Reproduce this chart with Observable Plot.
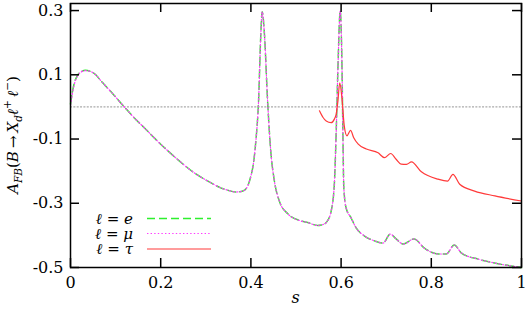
<!DOCTYPE html>
<html><head><meta charset="utf-8">
<script src="https://cdn.jsdelivr.net/npm/d3@7"></script>
<script src="https://cdn.jsdelivr.net/npm/@observablehq/plot@0.6"></script>
<style>
body{margin:0;background:#fff}
svg{display:block}
#chart svg, #chart svg text, #chart svg tspan { font-family: "DejaVu Serif", serif !important; }
</style>
</head><body><div id="chart"></div>
<script>
// ---- data ----
const eS = [0,0.004,0.008,0.015,0.024,0.033,0.045,0.056,0.067,0.08,0.095,0.118,0.14,0.163,0.2,0.237,0.274,0.311,0.333,0.348,0.367,0.382,0.393,0.4,0.404,0.411,0.417,0.422,0.425,0.43,0.437,0.444,0.452,0.463,0.482,0.511,0.526,0.548,0.56,0.567,0.578,0.585,0.589,0.593,0.598,0.602,0.604,0.606,0.611,0.622,0.633,0.652,0.674,0.693,0.709,0.722,0.738,0.762,0.784,0.816,0.833,0.851,0.867,0.904,0.94,1.0];
const eA = [0.009,0.045,0.072,0.097,0.11,0.114,0.11,0.1,0.082,0.062,0.039,0.002,-0.032,-0.064,-0.116,-0.163,-0.205,-0.236,-0.252,-0.259,-0.265,-0.262,-0.246,-0.215,-0.19,-0.106,0.019,0.227,0.296,0.227,0.019,-0.137,-0.23,-0.293,-0.333,-0.355,-0.36,-0.369,-0.366,-0.36,-0.324,-0.24,-0.084,0.122,0.298,0.122,-0.084,-0.251,-0.314,-0.345,-0.376,-0.402,-0.417,-0.424,-0.396,-0.411,-0.427,-0.411,-0.439,-0.458,-0.458,-0.43,-0.455,-0.474,-0.486,-0.5];
const muS = [0,0.004,0.008,0.015,0.024,0.033,0.045,0.056,0.067,0.08,0.095,0.118,0.14,0.163,0.2,0.237,0.274,0.311,0.333,0.348,0.367,0.382,0.393,0.4,0.404,0.411,0.417,0.422,0.425,0.43,0.437,0.444,0.452,0.463,0.482,0.511,0.526,0.548,0.56,0.567,0.578,0.585,0.589,0.593,0.598,0.602,0.604,0.606,0.611,0.622,0.633,0.652,0.674,0.693,0.709,0.722,0.738,0.762,0.784,0.816,0.833,0.851,0.867,0.904,0.94,1.0];
const muA = [0.005,0.04,0.068,0.095,0.109,0.113,0.11,0.1,0.082,0.062,0.039,0.002,-0.032,-0.064,-0.116,-0.163,-0.205,-0.236,-0.252,-0.259,-0.265,-0.262,-0.246,-0.215,-0.19,-0.106,0.019,0.227,0.296,0.227,0.019,-0.137,-0.23,-0.293,-0.333,-0.355,-0.36,-0.369,-0.366,-0.36,-0.324,-0.24,-0.084,0.122,0.298,0.122,-0.084,-0.251,-0.314,-0.345,-0.376,-0.402,-0.417,-0.424,-0.396,-0.411,-0.427,-0.411,-0.439,-0.458,-0.458,-0.43,-0.455,-0.474,-0.486,-0.5];
const tauS = [0.552,0.56,0.567,0.578,0.585,0.589,0.593,0.597,0.602,0.607,0.613,0.621,0.628,0.638,0.656,0.682,0.696,0.71,0.722,0.733,0.745,0.756,0.778,0.815,0.836,0.848,0.863,0.896,0.941,1.0];
const tauA = [-0.012,-0.033,-0.044,-0.049,-0.038,-0.023,0.019,0.075,0.025,-0.059,-0.09,-0.073,-0.096,-0.116,-0.131,-0.143,-0.158,-0.145,-0.163,-0.178,-0.179,-0.171,-0.202,-0.225,-0.231,-0.21,-0.241,-0.262,-0.277,-0.293];
const xTicks = [0,0.2,0.4,0.6,0.8,1];
const xTickLabels = ["0","0.2","0.4","0.6","0.8","1"];
const yTicks = [-0.5,-0.3,-0.1,0.1,0.3];
const yTickLabels = ["-0.5","-0.3","-0.1","0.1","0.3"];
const seriesNames = ["e","μ","τ"];
const seriesColors = ["#2ef02e","#ff3cff","#ff3a3a"];
const seriesDash = ["8,4","1.4,2.2",null];
const seriesWidth = [1.5, 1.2, 1.2];

const toRows = (S, A, name) => S.map((s, i) => ({s, a: A[i], name}));
const series = [toRows(eS, eA, "e"), toRows(muS, muA, "μ"), toRows(tauS, tauA, "τ")];

const W = 526, H = 310, mL = 70, mR = 5, mT = 3, mB = 43;
const pw = W - mL - mR, ph = H - mT - mB, tk = 9;

const plot = Plot.plot({
  width: W, height: H,
  marginLeft: mL, marginRight: mR, marginTop: mT, marginBottom: mB,
  x: {domain: [0, 1]},
  y: {domain: [-0.5, 0.322]},
  style: {fontSize: "16px", background: "white", color: "black"},
  marks: [
    Plot.ruleY([0], {stroke: "#aaaaaa", strokeWidth: 1.4, strokeDasharray: "2,1.35"}),
    ...series.map((d, i) => Plot.line(d, {x: "s", y: "a", stroke: seriesColors[i], strokeWidth: seriesWidth[i], strokeDasharray: seriesDash[i], curve: "monotone-x"})),
    Plot.tickX(xTicks, {x: d => d, insetTop: ph - tk, stroke: "black", strokeWidth: 1.5}),
    Plot.tickX(xTicks, {x: d => d, insetBottom: ph - tk, stroke: "black", strokeWidth: 1.5}),
    Plot.tickY(yTicks, {y: d => d, insetRight: pw - tk, stroke: "black", strokeWidth: 1.5}),
    Plot.tickY(yTicks, {y: d => d, insetLeft: pw - tk, stroke: "black", strokeWidth: 1.5}),
    Plot.axisX(xTicks, {tickSize: 0, tickPadding: 9, tickFormat: (d, i) => xTickLabels[i], label: null}),
    Plot.axisY(yTicks, {tickSize: 0, tickPadding: 7, tickFormat: (d, i) => yTickLabels[i], label: null}),
    Plot.frame({stroke: "black", strokeWidth: 1.5})
  ]
});

const svg = d3.select(plot);
// x label
svg.append("text").attr("x", mL + pw / 2).attr("y", 303).attr("text-anchor", "middle")
  .attr("font-size", 16).attr("font-style", "italic").text("s");
// y label
const yl = svg.append("text").attr("transform", `translate(18,${mT + ph / 2}) rotate(-90)`)
  .attr("text-anchor", "middle").attr("font-size", 15);
const parts = [
  ["A", {fs: "italic"}], ["FB", {fs: "italic", size: 10.5, dy: 4}], ["(", {dy: -4}],
  ["B", {fs: "italic"}], ["\u2009→\u2009", {}], ["X", {fs: "italic"}],
  ["d", {fs: "italic", size: 10.5, dy: 4}], ["ℓ", {fs: "italic", dy: -4}],
  ["+", {size: 10.5, dy: -7}], ["\u2009ℓ", {fs: "italic", dy: 7}], ["−", {size: 10.5, dy: -7}], [")", {dy: 7}]
];
for (const [t, o] of parts) {
  const ts = yl.append("tspan").text(t);
  if (o.fs) ts.attr("font-style", o.fs);
  if (o.size) ts.attr("font-size", o.size);
  if (o.dy) ts.attr("dy", o.dy);
}
// legend
const rowY = [218.5, 233.5, 249];
seriesNames.forEach((n, i) => {
  const t = svg.append("text").attr("x", 133).attr("y", rowY[i] + 5).attr("text-anchor", "end")
    .attr("font-size", 15);
  t.append("tspan").attr("font-style", "italic").text("ℓ");
  t.append("tspan").text(" = ");
  t.append("tspan").attr("font-style", "italic").text(n);
  svg.append("line").attr("x1", 147).attr("x2", 211).attr("y1", rowY[i]).attr("y2", rowY[i])
    .attr("stroke", seriesColors[i]).attr("stroke-width", seriesWidth[i])
    .attr("stroke-dasharray", seriesDash[i]);
});
document.getElementById("chart").appendChild(plot);
</script>
</body></html>
